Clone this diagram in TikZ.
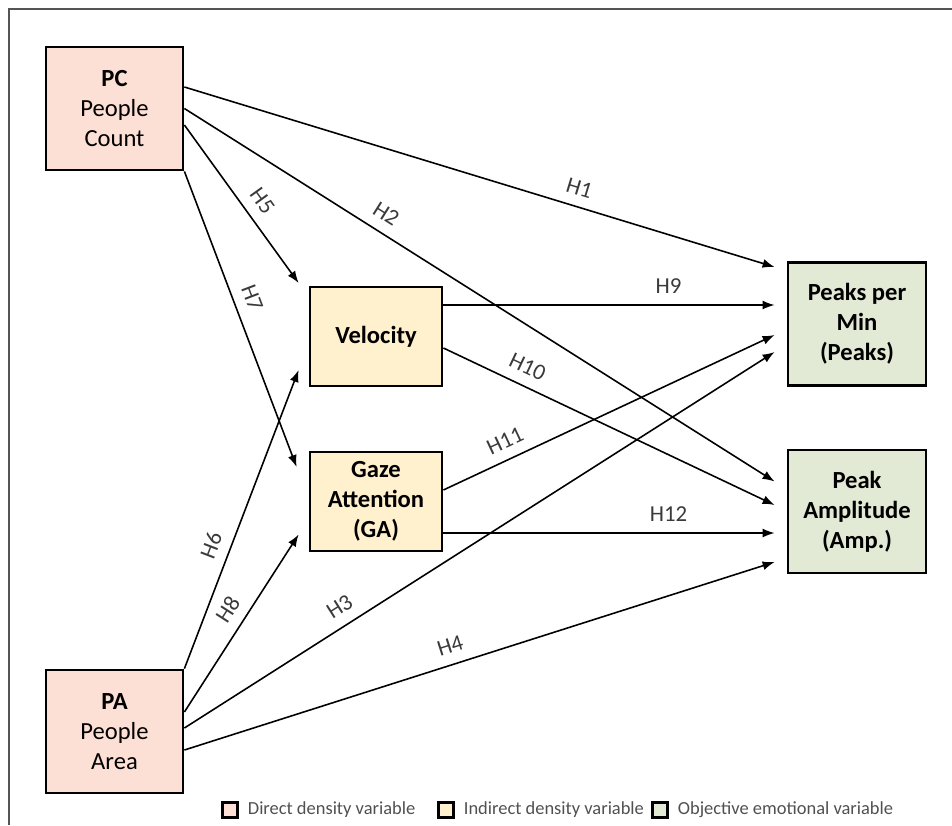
\documentclass[tikz,border=0pt]{standalone}
\usepackage{fontspec}
\setmainfont{Carlito}
\usetikzlibrary{arrows.meta,positioning}

\definecolor{directfill}{HTML}{FCE0D5}
\definecolor{indirectfill}{HTML}{FFF0CE}
\definecolor{emofill}{HTML}{E2EAD6}
\definecolor{labelgray}{HTML}{3A3A3A}
\definecolor{leggray}{HTML}{505050}
\definecolor{framegray}{HTML}{555555}

\tikzset{
  varbox/.style={draw=black, line width=1.6pt, align=center, inner sep=2pt,
    font=\fontsize{14}{17}\selectfont},
  directvar/.style={varbox, fill=directfill, minimum width=2.74cm, minimum height=2.46cm},
  indirectvar/.style={varbox, fill=indirectfill, minimum width=2.64cm, minimum height=1.98cm, font=\fontsize{14}{17}\selectfont\bfseries},
  emovar/.style={varbox, fill=emofill, minimum width=2.76cm, minimum height=2.46cm, font=\fontsize{14}{17}\selectfont\bfseries},
  hyp/.style={sloped, above=4pt, inner sep=2pt, text=labelgray, font=\fontsize{13}{15}\selectfont},
  path/.style={->, line width=0.9pt},
  legbox/.style={draw=black, line width=1.2pt, minimum size=0.3cm, inner sep=0pt},
  legtext/.style={text=leggray, inner sep=0pt, font=\fontsize{10.5}{12}\selectfont},
}

\begin{document}
\begin{tikzpicture}[x=0.02cm, y=-0.02cm, >={Latex[length=2.4mm,width=1.8mm]}]
    \useasboundingbox (0,0) rectangle (952,825);
    % Khung ngoai
    \draw[framegray, line width=1.2pt] (9,825) -- (9,9) -- (952,9);

    % Bien mat do truc tiep
    \node[directvar] (pc) at (114.5,108.5) {\textbf{PC}\\People\\Count};
    \node[directvar] (pa) at (114.5,731.5) {\textbf{PA}\\People\\Area};

    % Bien mat do gian tiep
    \node[indirectvar] (vel) at (376,336.5) {Velocity};
    \node[indirectvar] (ga) at (376,501.5) {Gaze\\Attention\\(GA)};

    % Bien cam xuc
    \node[emovar] (peaks) at (857,324) {Peaks per\\Min\\(Peaks)};
    \node[emovar] (amp) at (857,511.5) {Peak\\Amplitude\\(Amp.)};

    % Gia thuyet tu PC
    \draw[path] ([shift={(0,-21.5)}]pc.east) -- ([shift={(-12,-57)}]peaks.west) node[hyp, pos=0.66] {H1};
    \draw[path] (pc.east) -- ([shift={(-12,-30)}]amp.west) node[hyp, pos=0.325] {H2};
    \draw[path] ([shift={(0,16.5)}]pc.east) -- ([shift={(-10,-53.5)}]vel.west) node[hyp, pos=0.55] {H5};
    \draw[path] (pc.south east) -- ([shift={(-12,-34.5)}]ga.west) node[hyp, pos=0.45] {H7};

    % Gia thuyet tu PA
    \draw[path] (pa.north east) -- ([shift={(-10,33.5)}]vel.west) node[hyp, pos=0.39] {H6};
    \draw[path] ([shift={(0,-19.5)}]pa.east) -- ([shift={(-10,33)}]ga.west) node[hyp, pos=0.52] {H8};
    \draw[path] ([shift={(0,-3.5)}]pa.east) -- ([shift={(-12,28)}]peaks.west) node[hyp, pos=0.28] {H3};
    \draw[path] ([shift={(0,18.5)}]pa.east) -- ([shift={(-12,50.5)}]amp.west) node[hyp, pos=0.46] {H4};

    % Gia thuyet tu bien trung gian
    \draw[path] ([shift={(0,-31.5)}]vel.east) -- ([shift={(-12,-19)}]peaks.west) node[hyp, pos=0.68] {H9};
    \draw[path] ([shift={(0,11.5)}]vel.east) -- ([shift={(-12,-6.5)}]amp.west) node[hyp, pos=0.23] {H10};
    \draw[path] ([shift={(0,-11.5)}]ga.east) -- ([shift={(-12,11)}]peaks.west) node[hyp, pos=0.21] {H11};
    \draw[path] ([shift={(0,31.5)}]ga.east) -- ([shift={(-12,21.5)}]amp.west) node[hyp, pos=0.68] {H12};

    % Chu thich
    \node[legbox, fill=directfill] (legdirect) at (230,810) {};
    \node[legtext, right=0.18cm of legdirect] (txtdirect) {Direct density variable};
    \node[legbox, fill=indirectfill] (legindirect) at (446,810) {};
    \node[legtext, right=0.18cm of legindirect] (txtindirect) {Indirect density variable};
    \node[legbox, fill=emofill] (legemo) at (660,810) {};
    \node[legtext, right=0.18cm of legemo] (txtemo) {Objective emotional variable};
\end{tikzpicture}
\end{document}
